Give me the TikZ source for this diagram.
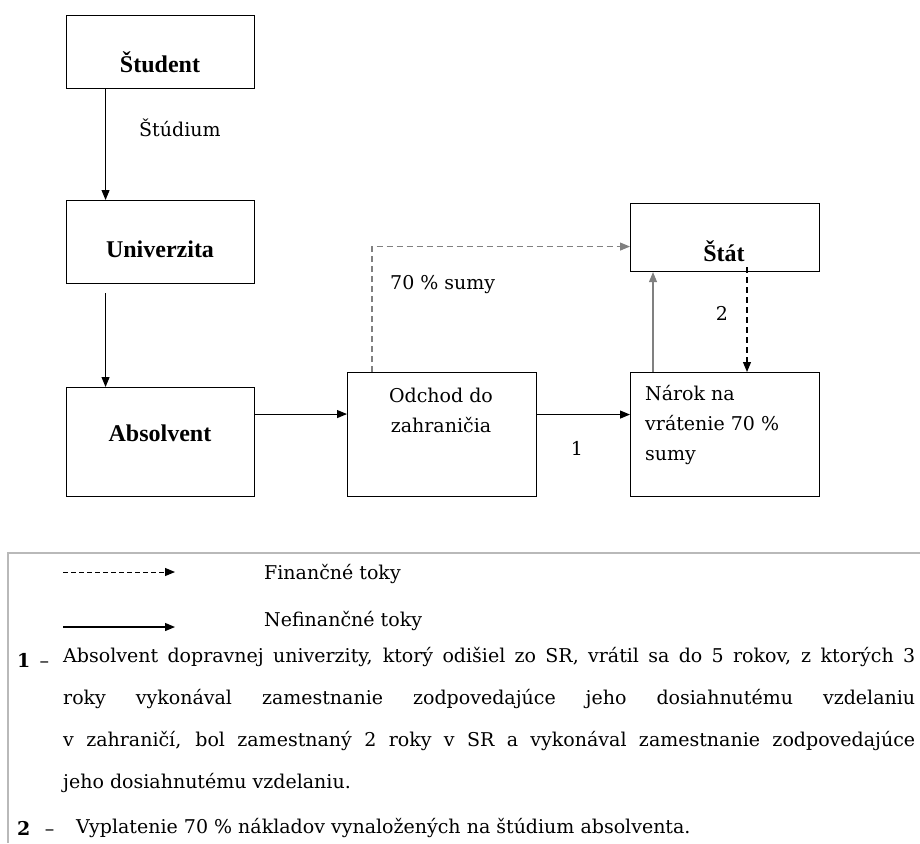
\documentclass[tikz,border=0pt]{standalone}
\usepackage{fontspec}
\setmainfont{DejaVu Serif}
\newfontfamily\timesfont{Liberation Serif}
\usetikzlibrary{arrows.meta, positioning}

\tikzset{
  box/.style={draw, line width=1.1pt, minimum width=188pt, inner sep=0pt},
  flow/.style={-{Triangle[length=10pt,width=8pt]}, line width=1.1pt},
  money/.style={flow, dash pattern=on 6pt off 4pt},
  txt/.style={font=\fontsize{19}{30}\selectfont, inner sep=0pt},
  boldtxt/.style={font=\timesfont\bfseries\fontsize{24}{28}\selectfont, inner sep=0pt},
  legtxt/.style={font=\fontsize{19}{42}\selectfont, inner sep=0pt},
}

\begin{document}
\begin{tikzpicture}[x=1pt, y=-1pt]
\useasboundingbox (0,0) rectangle (920,843);

% boxes
\node[box, minimum height=73pt, anchor=north west] (student) at (66,15) {};
\node[box, minimum height=83pt, anchor=north west] (univ) at (66,200) {};
\node[box, minimum height=109pt, anchor=north west] (absolvent) at (66,387) {};
\node[box, minimum width=189pt, minimum height=124pt, anchor=north west] (odchod) at (347,372) {};
\node[box, minimum width=189pt, minimum height=124pt, anchor=north west] (narok) at (630,372) {};
\node[box, minimum width=189pt, minimum height=68pt, anchor=north west] (stat) at (630,203) {};

% box texts
\node[boldtxt] (studentT) at (160,62) {Študent};
\node[boldtxt] (univT) at (160,249) {Univerzita};
\node[boldtxt] (absolventT) at (160,433) {Absolvent};
\node[boldtxt] (statT) at (724,251) {Štát};
\node[txt, align=center] (odchodT) at (441,410) {Odchod do\\zahraničia};
\node[txt, align=left, anchor=west] (narokT) at (645,425) {Nárok na\\vrátenie 70 \%\\sumy};

% flows
\draw[flow] ([xshift=-55pt]student.south) -- ([xshift=-55pt]univ.north);
\node[txt, anchor=west] (studium) at (139,128) {Štúdium};
\draw[flow] ([xshift=-55pt, yshift=-9pt]univ.south) -- ([xshift=-55pt]absolvent.north);
\draw[flow] ([yshift=28pt]absolvent.east) -- ([yshift=28pt]absolvent.east -| odchod.west);
\draw[flow] ([yshift=20pt]odchod.east) -- ([yshift=20pt]narok.west);
\node[txt] (one) at (577,448) {1};
\draw[flow, gray] ([xshift=23pt]narok.north west) -- ([xshift=23pt]stat.south west);
\draw[money] ([xshift=117pt, yshift=5pt]stat.south west) -- ([xshift=117pt]narok.north west);
\node[txt] (two) at (722,313) {2};
\draw[money, gray] ([xshift=25pt]odchod.north west) |- ([yshift=-9pt]stat.west);
\node[txt, anchor=west] (sumy) at (390,285) {70 \% sumy};

% legend
\draw[gray!55, line width=1.6pt] (920,553) -| (8,843);
\coordinate (d1) at (63,572);
\coordinate (d2) at (175,572);
\draw[-{Triangle[length=10pt,width=8pt]}, line width=1pt, dash pattern=on 5pt off 3pt] (d1) -- (d2);
\node[legtxt, anchor=west] (fin) at (264,574) {Finančné toky};
\coordinate (n1) at (63,627);
\coordinate (n2) at (175,627);
\draw[-{Triangle[length=10pt,width=8pt]}, line width=1.2pt] (n1) -- (n2);
\node[legtxt, anchor=west] (nefin) at (264,621) {Nefinančné toky};

\node[legtxt, anchor=west] (k1) at (17,660) {\textbf{1} \,--};
\node[legtxt, anchor=north west, text width=852pt, align=justify] (k1text) at (63,647)
  {Absolvent dopravnej univerzity, ktorý odišiel zo SR, vrátil sa do 5 rokov, z~ktorých~3\linebreak
   roky vykonával zamestnanie zodpovedajúce jeho dosiahnutému vzdelaniu\linebreak
   v~zahraničí, bol zamestnaný 2 roky v~SR a vykonával zamestnanie zodpovedajúce\linebreak
   jeho dosiahnutému vzdelaniu.};
\node[legtxt, anchor=west] (k2) at (17,828) {\textbf{2} \;\,--};
\node[legtxt, anchor=west] (k2text) at (76,828) {Vyplatenie 70 \% nákladov vynaložených na štúdium absolventa.};

\end{tikzpicture}
\end{document}
